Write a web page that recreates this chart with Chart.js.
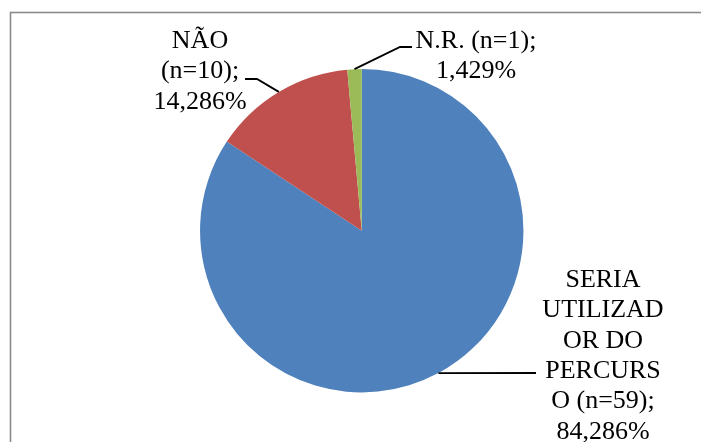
<!DOCTYPE html>
<html>
<head>
<meta charset="utf-8">
<script src="https://cdn.jsdelivr.net/npm/chart.js@4"></script>
<style>
  html, body { margin: 0; padding: 0; background: #ffffff; }
  #wrap { width: 701px; height: 442px; position: relative; overflow: hidden; }
</style>
</head>
<body>
<div id="wrap"><canvas id="c" width="701" height="442"></canvas></div>
<script>
// ---- Data ----
const categories = ["SERIA UTILIZADOR DO PERCURSO", "NÃO", "N.R."];
const counts = [59, 10, 1];
const labelLines = [
  ["SERIA", "UTILIZAD", "OR DO", "PERCURS", "O (n=59);"],
  ["NÃO", "(n=10);"],
  ["N.R. (n=1);"]
];
const colors = ["#4F81BD", "#C0504D", "#9BBB59"];

const total = counts.reduce((a, b) => a + b, 0);
function pctText(v) {
  return (v / total * 100).toFixed(3).replace(".", ",") + "%";
}

// label placement (style / layout only)
const labelLayout = [
  { cx: 603, y0: 287, elbow: [536, 373], end: [536, 373] },
  { cx: 200, y0: 48,  elbow: [257, 79],  end: [245, 79] },
  { cx: 476, y0: 48,  elbow: [400, 47],  end: [412, 47], inline: true }
];

const framePlugin = {
  id: "frame",
  beforeDraw(chart) {
    const ctx = chart.ctx;
    ctx.save();
    ctx.fillStyle = "#ffffff";
    ctx.fillRect(0, 0, chart.width, chart.height);
    ctx.strokeStyle = "#8a8a8a";
    ctx.lineWidth = 1.6;
    ctx.strokeRect(10.5, 12.5, 900, 900);
    ctx.restore();
  }
};

const labelPlugin = {
  id: "pieLabels",
  afterDraw(chart) {
    const ctx = chart.ctx;
    const meta = chart.getDatasetMeta(0);
    ctx.save();
    ctx.font = "26px 'Liberation Serif', 'Times New Roman', serif";
    ctx.fillStyle = "#000000";
    ctx.textAlign = "center";
    ctx.textBaseline = "alphabetic";
    const lh = 30.3;
    meta.data.forEach((arc, i) => {
      const p = arc.getProps(["x", "y", "startAngle", "endAngle", "outerRadius"], true);
      const mid = (p.startAngle + p.endAngle) / 2;
      const ex = p.x + Math.cos(mid) * p.outerRadius;
      const ey = p.y + Math.sin(mid) * p.outerRadius;
      const L = labelLayout[i];
      // leader line
      ctx.strokeStyle = "#000000";
      ctx.lineWidth = 1.8;
      ctx.beginPath();
      ctx.moveTo(ex, ey);
      ctx.lineTo(L.elbow[0], L.elbow[1]);
      ctx.lineTo(L.end[0], L.end[1]);
      ctx.stroke();
      // text
      const lines = labelLines[i].concat([pctText(counts[i])]);
      lines.forEach((t, k) => {
        ctx.fillText(t, L.cx, L.y0 + k * lh);
      });
    });
    ctx.restore();
  }
};

new Chart(document.getElementById("c"), {
  type: "pie",
  data: {
    labels: categories,
    datasets: [{
      data: counts,
      backgroundColor: colors,
      borderWidth: 0
    }]
  },
  options: {
    responsive: false,
    devicePixelRatio: 1,
    animation: false,
    layout: { padding: { left: 200, right: 177.5, top: 69, bottom: 49.6 } },
    plugins: {
      legend: { display: false },
      tooltip: { enabled: false }
    }
  },
  plugins: [framePlugin, labelPlugin]
});
</script>
</body>
</html>
